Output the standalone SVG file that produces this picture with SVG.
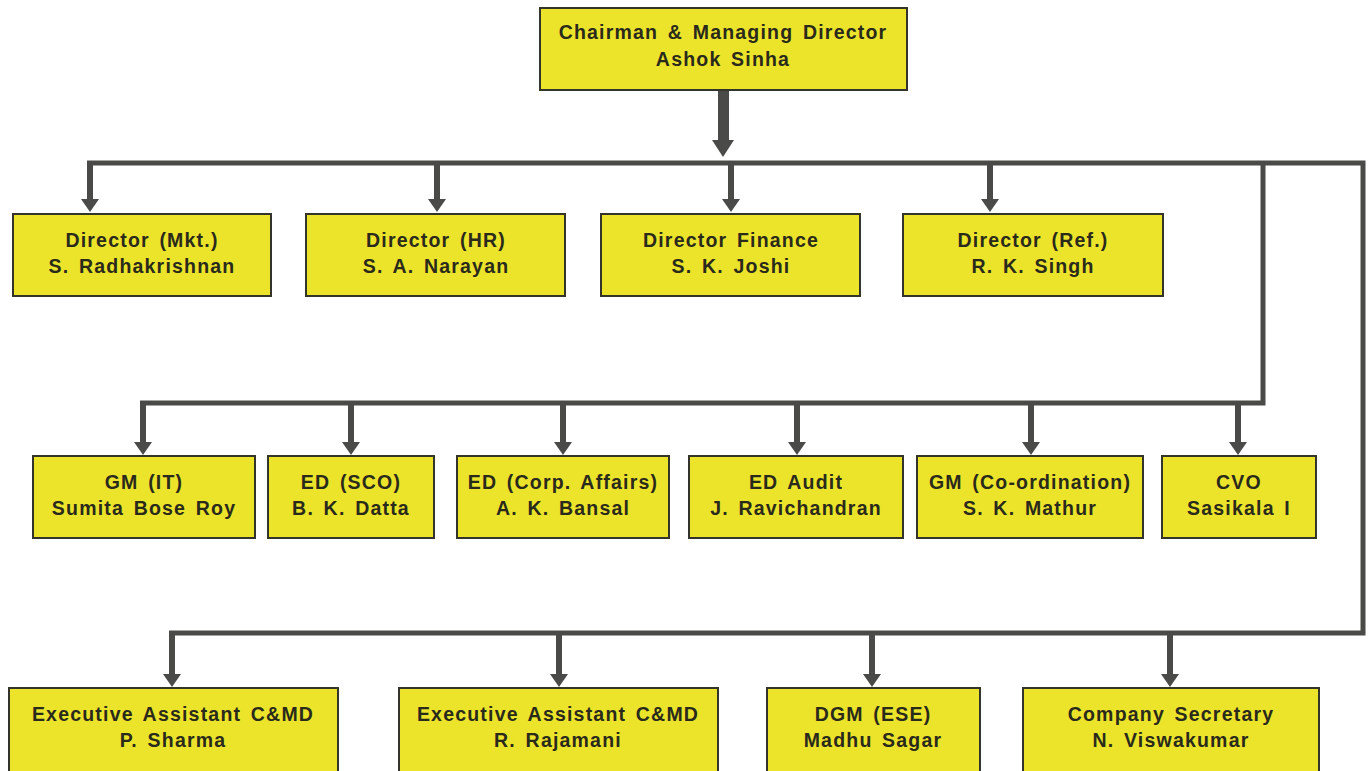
<svg xmlns="http://www.w3.org/2000/svg" width="1369" height="771" viewBox="0 0 1369 771">
<defs>
<style>
.box{fill:#ece42a;stroke:#34342a;stroke-width:2}
.t{font-family:"Liberation Sans",Arial,sans-serif;font-weight:bold;font-size:19.5px;fill:#2a2a1c;text-anchor:middle;letter-spacing:1.2px;word-spacing:3px}
.bus{fill:none;stroke:#4a4a48;stroke-width:5;stroke-linejoin:miter}
.drop{stroke:#4a4a48;stroke-width:6;marker-end:url(#ah)}
</style>
<marker id="ah" markerUnits="userSpaceOnUse" viewBox="0 0 18 13" markerWidth="18" markerHeight="13" refX="9" refY="1" orient="0">
<polygon points="0,0 18,0 9,13" fill="#4a4a48"/>
</marker>
</defs>
<rect width="1369" height="771" fill="#ffffff"/>
<g id="connectors">
<rect x="718" y="89" width="11" height="52" fill="#4a4a48"/>
<polygon points="712,140 734,140 723,157" fill="#4a4a48"/>
<path class="bus" d="M87 163 H1363 V633 H169"/>
<path class="bus" d="M1263 163 V403 H140"/>
<line class="drop" x1="90" y1="161" x2="90" y2="200"/>
<line class="drop" x1="437" y1="161" x2="437" y2="200"/>
<line class="drop" x1="731" y1="161" x2="731" y2="200"/>
<line class="drop" x1="990" y1="161" x2="990" y2="200"/>
<line class="drop" x1="143" y1="401" x2="143" y2="443"/>
<line class="drop" x1="351" y1="401" x2="351" y2="443"/>
<line class="drop" x1="563" y1="401" x2="563" y2="443"/>
<line class="drop" x1="797" y1="401" x2="797" y2="443"/>
<line class="drop" x1="1031" y1="401" x2="1031" y2="443"/>
<line class="drop" x1="1238" y1="401" x2="1238" y2="443"/>
<line class="drop" x1="172" y1="631" x2="172" y2="675"/>
<line class="drop" x1="559" y1="631" x2="559" y2="675"/>
<line class="drop" x1="872" y1="631" x2="872" y2="675"/>
<line class="drop" x1="1170" y1="631" x2="1170" y2="675"/>
</g>
<g id="cmd"><rect class="box" x="540" y="8" width="367" height="82"/><text class="t" x="723" y="39">Chairman &amp; Managing Director</text><text class="t" x="723" y="66">Ashok Sinha</text></g>
<g id="dir-mkt"><rect class="box" x="13" y="214" width="258" height="82"/><text class="t" x="142" y="247">Director (Mkt.)</text><text class="t" x="142" y="273">S. Radhakrishnan</text></g>
<g id="dir-hr"><rect class="box" x="306" y="214" width="259" height="82"/><text class="t" x="436" y="247">Director (HR)</text><text class="t" x="436" y="273">S. A. Narayan</text></g>
<g id="dir-fin"><rect class="box" x="601" y="214" width="259" height="82"/><text class="t" x="731" y="247">Director Finance</text><text class="t" x="731" y="273">S. K. Joshi</text></g>
<g id="dir-ref"><rect class="box" x="903" y="214" width="260" height="82"/><text class="t" x="1033" y="247">Director (Ref.)</text><text class="t" x="1033" y="273">R. K. Singh</text></g>
<g id="gm-it"><rect class="box" x="33" y="456" width="222" height="82"/><text class="t" x="144" y="489">GM (IT)</text><text class="t" x="144" y="515">Sumita Bose Roy</text></g>
<g id="ed-sco"><rect class="box" x="268" y="456" width="166" height="82"/><text class="t" x="351" y="489">ED (SCO)</text><text class="t" x="351" y="515">B. K. Datta</text></g>
<g id="ed-corp"><rect class="box" x="457" y="456" width="212" height="82"/><text class="t" x="563" y="489">ED (Corp. Affairs)</text><text class="t" x="563" y="515">A. K. Bansal</text></g>
<g id="ed-audit"><rect class="box" x="689" y="456" width="214" height="82"/><text class="t" x="796" y="489">ED Audit</text><text class="t" x="796" y="515">J. Ravichandran</text></g>
<g id="gm-coord"><rect class="box" x="917" y="456" width="226" height="82"/><text class="t" x="1030" y="489">GM (Co-ordination)</text><text class="t" x="1030" y="515">S. K. Mathur</text></g>
<g id="cvo"><rect class="box" x="1162" y="456" width="154" height="82"/><text class="t" x="1239" y="489">CVO</text><text class="t" x="1239" y="515">Sasikala I</text></g>
<g id="ea-sharma"><rect class="box" x="9" y="688" width="329" height="90"/><text class="t" x="173" y="721">Executive Assistant C&amp;MD</text><text class="t" x="173" y="747">P. Sharma</text></g>
<g id="ea-rajamani"><rect class="box" x="399" y="688" width="319" height="90"/><text class="t" x="558" y="721">Executive Assistant C&amp;MD</text><text class="t" x="558" y="747">R. Rajamani</text></g>
<g id="dgm-ese"><rect class="box" x="767" y="688" width="213" height="90"/><text class="t" x="873" y="721">DGM (ESE)</text><text class="t" x="873" y="747">Madhu Sagar</text></g>
<g id="cs"><rect class="box" x="1023" y="688" width="296" height="90"/><text class="t" x="1171" y="721">Company Secretary</text><text class="t" x="1171" y="747">N. Viswakumar</text></g>
</svg>
